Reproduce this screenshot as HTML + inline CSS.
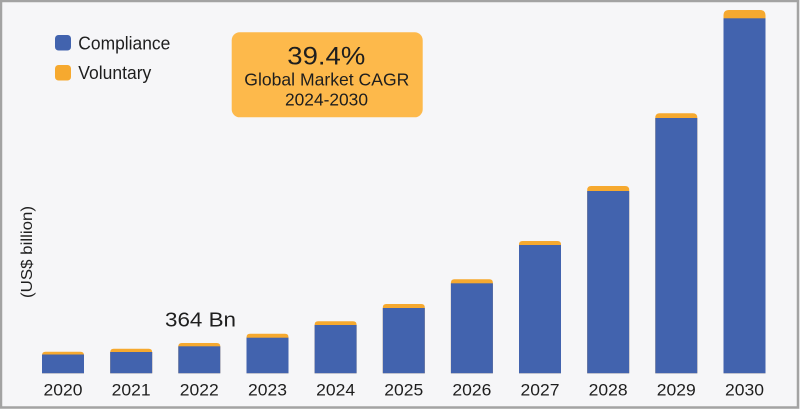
<!DOCTYPE html>
<html><head><meta charset="utf-8"><style>
html,body{margin:0;padding:0;width:800px;height:409px;overflow:hidden;background:#f6f6f8}
svg{display:block}
text{font-family:"Liberation Sans",Arial,sans-serif;fill:#1e1e1e}
</style></head><body>
<svg width="800" height="409" viewBox="0 0 800 409" xmlns="http://www.w3.org/2000/svg">
<rect x="0" y="0" width="800" height="409" fill="#f6f6f8"/>
<rect x="1" y="1" width="797" height="406.5" fill="none" stroke="#a3a3a3" stroke-width="2.5"/>
<!-- legend -->
<rect x="55" y="35" width="16" height="15.5" rx="3.5" fill="#4263ae"/>
<rect x="55" y="65" width="16" height="15.5" rx="3.5" fill="#f6a92f"/>
<text x="78.3" y="49.5" font-size="18" textLength="92" lengthAdjust="spacingAndGlyphs">Compliance</text>
<text x="78.3" y="79" font-size="18" textLength="73" lengthAdjust="spacingAndGlyphs">Voluntary</text>
<!-- CAGR box -->
<rect x="231.7" y="32.3" width="191" height="85" rx="8" fill="#fdb94b"/>
<text x="287.3" y="64.3" font-size="25" textLength="78" lengthAdjust="spacingAndGlyphs">39.4%</text>
<text x="244.3" y="85.7" font-size="17.5" textLength="165" lengthAdjust="spacingAndGlyphs">Global Market CAGR</text>
<text x="285" y="105.7" font-size="17.5" textLength="83" lengthAdjust="spacingAndGlyphs">2024-2030</text>
<!-- y label -->
<text transform="translate(32,252) rotate(-90)" text-anchor="middle" font-size="16" textLength="92" lengthAdjust="spacingAndGlyphs">(US$ billion)</text>
<!-- 364 Bn -->
<text x="165" y="326.5" font-size="20" textLength="71" lengthAdjust="spacingAndGlyphs">364 Bn</text>
<!-- bars -->
<g id="bars">
<path d="M42,373.3 V355.2 Q42,351.7 45.5,351.7 H80.5 Q84,351.7 84,355.2 V373.3 Z" fill="#f6a92f"/>
<rect x="42" y="354.5" width="42" height="18.8" fill="#4263ae"/>
<path d="M110.2,373.3 V352.2 Q110.2,348.7 113.7,348.7 H148.7 Q152.2,348.7 152.2,352.2 V373.3 Z" fill="#f6a92f"/>
<rect x="110.2" y="352" width="42" height="21.3" fill="#4263ae"/>
<path d="M178.3,373.3 V346.5 Q178.3,343 181.8,343 H216.8 Q220.3,343 220.3,346.5 V373.3 Z" fill="#f6a92f"/>
<rect x="178.3" y="346.3" width="42" height="27" fill="#4263ae"/>
<path d="M246.5,373.3 V337.2 Q246.5,333.7 250,333.7 H285 Q288.5,333.7 288.5,337.2 V373.3 Z" fill="#f6a92f"/>
<rect x="246.5" y="337.7" width="42" height="35.6" fill="#4263ae"/>
<path d="M314.6,373.3 V324.8 Q314.6,321.3 318.1,321.3 H353.1 Q356.6,321.3 356.6,324.8 V373.3 Z" fill="#f6a92f"/>
<rect x="314.6" y="325" width="42" height="48.3" fill="#4263ae"/>
<path d="M382.8,373.3 V307.5 Q382.8,304 386.3,304 H421.3 Q424.8,304 424.8,307.5 V373.3 Z" fill="#f6a92f"/>
<rect x="382.8" y="308" width="42" height="65.3" fill="#4263ae"/>
<path d="M450.9,373.3 V282.8 Q450.9,279.3 454.4,279.3 H489.4 Q492.9,279.3 492.9,282.8 V373.3 Z" fill="#f6a92f"/>
<rect x="450.9" y="283.3" width="42" height="90" fill="#4263ae"/>
<path d="M519,373.3 V244.5 Q519,241 522.5,241 H557.5 Q561,241 561,244.5 V373.3 Z" fill="#f6a92f"/>
<rect x="519" y="245" width="42" height="128.3" fill="#4263ae"/>
<path d="M587.2,373.3 V190 Q587.2,186 591.2,186 H625.2 Q629.2,186 629.2,190 V373.3 Z" fill="#f6a92f"/>
<rect x="587.2" y="191" width="42" height="182.3" fill="#4263ae"/>
<path d="M655.3,373.3 V117.8 Q655.3,113.3 659.8,113.3 H692.8 Q697.3,113.3 697.3,117.8 V373.3 Z" fill="#f6a92f"/>
<rect x="655.3" y="118" width="42" height="255.3" fill="#4263ae"/>
<path d="M723.5,373.3 V15.5 Q723.5,10 729,10 H760 Q765.5,10 765.5,15.5 V373.3 Z" fill="#f6a92f"/>
<rect x="723.5" y="18.3" width="42" height="355" fill="#4263ae"/>
</g>
<!-- year labels -->
<g font-size="17" text-anchor="middle">
<text x="63" y="395.5" textLength="39" lengthAdjust="spacingAndGlyphs">2020</text>
<text x="131.2" y="395.5" textLength="39" lengthAdjust="spacingAndGlyphs">2021</text>
<text x="199.3" y="395.5" textLength="39" lengthAdjust="spacingAndGlyphs">2022</text>
<text x="267.5" y="395.5" textLength="39" lengthAdjust="spacingAndGlyphs">2023</text>
<text x="335.6" y="395.5" textLength="39" lengthAdjust="spacingAndGlyphs">2024</text>
<text x="403.8" y="395.5" textLength="39" lengthAdjust="spacingAndGlyphs">2025</text>
<text x="471.9" y="395.5" textLength="39" lengthAdjust="spacingAndGlyphs">2026</text>
<text x="540" y="395.5" textLength="39" lengthAdjust="spacingAndGlyphs">2027</text>
<text x="608.2" y="395.5" textLength="39" lengthAdjust="spacingAndGlyphs">2028</text>
<text x="676.3" y="395.5" textLength="39" lengthAdjust="spacingAndGlyphs">2029</text>
<text x="744.5" y="395.5" textLength="39" lengthAdjust="spacingAndGlyphs">2030</text>
</g>
</svg>
</body></html>
